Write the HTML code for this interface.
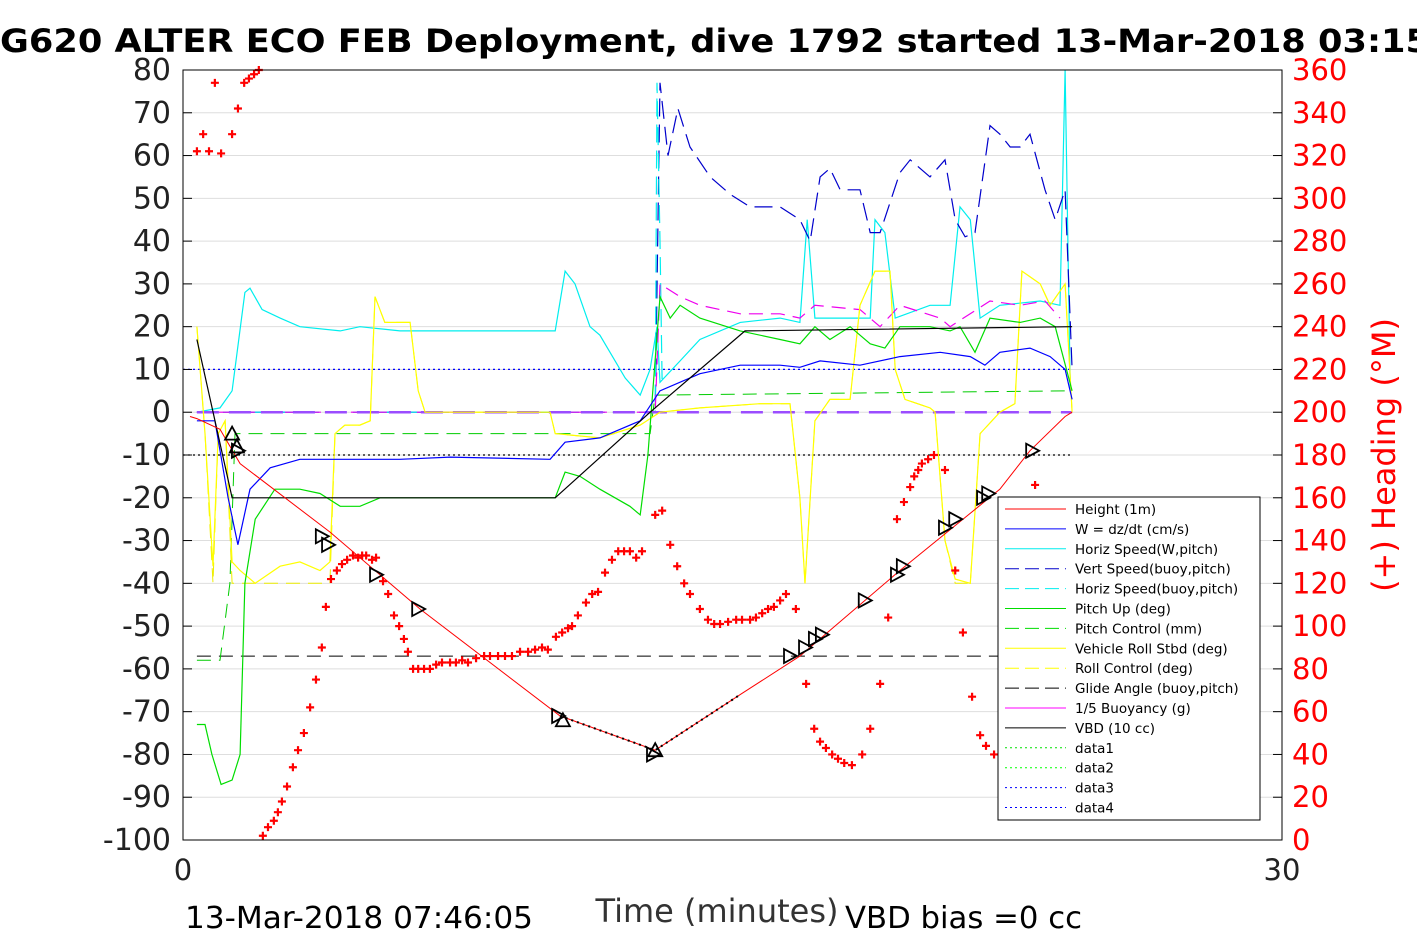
<!DOCTYPE html>
<html><head><meta charset="utf-8"><style>
html,body{margin:0;padding:0;background:#fff;width:1417px;height:945px;overflow:hidden}
svg text{font-family:"DejaVu Sans","Liberation Sans",sans-serif}
</style></head><body>
<svg id="c" width="1417" height="945" viewBox="0 0 1417 945" xmlns="http://www.w3.org/2000/svg">
<text x="0" y="52" font-size="32" font-weight="bold" textLength="1430" lengthAdjust="spacingAndGlyphs">G620 ALTER ECO FEB Deployment, dive 1792 started 13-Mar-2018 03:15</text>
<g id="grid"></g><g id="series"></g><g id="axes"></g>
<text x="185" y="928" font-size="30" textLength="348" lengthAdjust="spacingAndGlyphs">13-Mar-2018 07:46:05</text>
<text x="717" y="922" font-size="32" text-anchor="middle" fill="#333">Time (minutes)</text>
<text x="845" y="928" font-size="30" textLength="237" lengthAdjust="spacingAndGlyphs">VBD bias =0 cc</text>
<text transform="translate(1395,455) rotate(-90)" font-size="32" fill="#f00" text-anchor="middle">(+) Heading (°M)</text>
<g id="legend"></g>
</svg>
<script>
const leftTicks=[80,70,60,50,40,30,20,10,0,-10,-20,-30,-40,-50,-60,-70,-80,-90,-100];
const rightTicks=[360,340,320,300,280,260,240,220,200,180,160,140,120,100,80,60,40,20,0];
const xTicks=[0,30];
const heightT=[0.19,0.38,1.01,1.56,4.01,6.47,10.29,12.89,15.21,16.84,19.57,22.30,23.12,24.08,24.27];
const heightV=[-1,-1.5,-4,-12,-28,-46,-71,-79,-66,-57,-37,-18,-9,-1,0];
const wT=[0.38,0.87,1.23,1.50,1.83,2.38,3.19,4.56,5.92,7.29,10.02,10.43,11.38,12.48,13.02,14.11,15.21,16.30,16.84,17.39,18.48,19.57,20.67,21.49,21.89,22.30,23.12,23.67,24.08,24.27];
const wV=[-2,-2,-20,-31,-18,-13,-11,-11,-11,-10.5,-11,-7,-6,-2,5,9,11,11,10.5,12,11,13,14,13,11,14,15,13,10,3];
const hsT=[0.38,1.01,1.34,1.69,1.83,2.16,2.65,3.19,4.29,4.83,5.92,7.29,8.65,10.16,10.43,10.70,11.11,11.38,12.07,12.48,12.75,12.94,13.02,13.57,14.11,15.21,16.30,16.84,17.04,17.25,17.66,18.76,18.89,19.16,19.44,20.39,20.94,21.21,21.49,21.76,22.30,23.40,23.94,24.08,24.22];
const hsV=[0,1,5,28,29,24,22,20,19,20,19,19,19,19,33,30,20,18,8,4,10,20,7,12,17,21,22,21,45,22,22,22,45,42,22,25,25,48,45,22,25,26,25,80,5];
const vsT=[0.38,12.89,13.02,13.24,13.51,13.84,14.39,14.93,15.48,16.30,16.84,17.12,17.39,17.66,17.94,18.48,18.76,19.03,19.57,19.85,20.39,20.80,21.08,21.35,21.62,22.03,22.30,22.58,22.85,23.12,23.53,23.81,24.08,24.27];
const vsV=[0,0,77,60,71,62,55,51,48,48,45,40,55,57,52,52,42,42,56,59,55,59,45,41,42,67,65,62,62,65,52,45,52,10];
const pitchT=[0.38,0.60,0.79,1.04,1.34,1.56,1.69,1.97,2.51,3.19,3.74,4.29,4.83,5.38,6.47,8.65,10.16,10.43,10.84,11.38,12.20,12.48,12.69,13.02,13.30,13.57,14.11,15.21,16.30,16.84,17.25,17.66,18.21,18.76,19.16,19.57,20.39,20.94,21.21,21.62,22.03,22.85,23.40,23.81,24.27];
const pitchV=[-73,-73,-80,-87,-86,-80,-40,-25,-18,-18,-19,-22,-22,-20,-20,-20,-20,-14,-15,-18,-22,-24,-10,27,22,25,22,19,17,16,20,17,20,16,15,20,20,19,20,14,22,21,22,20,5];
const pcT=[0.38,1.01,1.28,1.42,12.75,12.89,24.27];
const pcV=[-58,-58,-40,-5,-5,4,5];
const rollT=[0.38,0.60,0.82,0.96,1.15,1.34,1.56,1.97,2.65,3.19,3.74,4.01,4.15,4.42,4.83,5.11,5.24,5.51,6.20,6.42,6.61,7.29,10.02,10.16,11.38,12.48,13.02,14.11,15.75,16.57,16.84,16.98,17.25,17.66,18.21,18.48,18.89,19.30,19.44,19.71,20.39,20.53,20.80,21.08,21.49,21.76,22.30,22.71,22.90,23.40,23.67,24.08,24.27];
const rollV=[20,-5,-36,-5,-2,-35,-37,-40,-36,-35,-37,-35,-5,-3,-3,-2,27,21,21,5,0,0,0,-5,-6,-3,0,1,2,2,-20,-40,-2,3,3,25,33,33,10,3,1,0,-30,-39,-40,-5,0,2,33,30,25,30,0];
const buoyT=[0.38,12.89,13.02,13.57,14.11,15.21,16.30,16.84,17.25,18.48,19.03,19.57,20.67,20.94,22.03,22.85,23.53,23.94];
const buoyV=[0,0,30,27,25,23,23,22,25,24,20,25,22,20,26,25,26,22];
const vbdT=[0.38,1.34,10.16,12.75,15.34,24.27];
const vbdV=[17,-20,-20,0,19,20];
const headT=[0.38,0.55,0.71,0.87,1.04,1.34,1.50,1.67,1.80,1.94,2.07,2.18,2.32,2.48,2.59,2.70,2.84,3.00,3.14,3.30,3.47,3.63,3.79,3.90,4.04,4.20,4.34,4.48,4.64,4.78,4.89,5.00,5.16,5.27,5.46,5.60,5.76,5.90,6.03,6.14,6.28,6.42,6.58,6.74,6.91,7.07,7.29,7.45,7.62,7.78,8.00,8.22,8.38,8.60,8.79,8.98,9.20,9.42,9.61,9.80,9.96,10.18,10.35,10.51,10.62,10.78,11.00,11.17,11.33,11.52,11.71,11.88,12.04,12.20,12.37,12.53,12.89,13.08,13.30,13.49,13.68,13.84,14.11,14.33,14.50,14.66,14.88,15.10,15.26,15.48,15.64,15.81,15.97,16.13,16.30,16.46,16.73,17.01,17.23,17.39,17.55,17.72,17.88,18.05,18.26,18.54,18.76,19.03,19.25,19.49,19.68,19.85,19.96,20.07,20.17,20.34,20.50,20.80,21.08,21.29,21.54,21.76,21.92,22.14,23.26];
const headV=[322,330,322,354,321,330,342,354,356,358,360,2,6,9,13,18,25,34,42,50,62,75,90,109,122,126,129,131,133,132,133,133,131,132,121,115,105,100,94,88,80,80,80,80,82,83,83,83,84,83,85,86,86,86,86,86,88,88,89,90,89,95,97,99,100,105,111,115,116,125,131,135,135,135,132,135,152,154,138,128,120,115,108,103,101,101,102,103,103,103,104,106,108,109,112,115,108,73,52,46,43,40,38,36,35,40,52,73,104,150,158,165,170,173,176,178,180,173,126,97,67,49,44,40,166];
const triRT=[1.50,3.79,3.96,5.27,6.42,10.24,12.83,16.57,16.98,17.25,17.44,18.61,19.49,19.65,20.80,21.08,21.84,21.98,23.18];
const triRV=[-9,-29,-31,-38,-46,-71,-80,-57,-55,-53,-52,-44,-38,-36,-27,-25,-20,-19,-9];
const triUT=[1.34,1.47,10.37,12.89];
const triUV=[-5,-8,-72,-79];

const X=t=>183+t*1099/30, Y=v=>70+(80-v)*770/180, YR=h=>840-h*770/360;
const NS='http://www.w3.org/2000/svg';
function mk(tag,attrs,parent){const e=document.createElementNS(NS,tag);for(const k in attrs)e.setAttribute(k,attrs[k]);document.getElementById(parent).appendChild(e);return e;}
function line(ts,vs,color,dash,name,w){
  const pts=ts.map((t,i)=>X(t).toFixed(1)+','+Y(vs[i]).toFixed(1)).join(' ');
  const e=mk('polyline',{points:pts,fill:'none',stroke:color,'stroke-width':w||1.2,'stroke-dasharray':dash||'none'},'series');
  
  
}
leftTicks.forEach(v=>{
  const g=mk('line',{x1:183,x2:1282,y1:Y(v),y2:Y(v),stroke:'#dedede','stroke-width':1},'grid');
  
  
});
line([0,24.27],[10,10],'#00f','2,3','data4-line',1.3);
line([0,24.27],[-10,-10],'#000','2,3','data1-line',1.3);
line([0.38,24.27],[-57,-57],'#000','14,8','glide-angle-line',1);
line(pcT,pcV,'#0c0','14,8','pitch-control-line',1);
line(rollT,rollV.map(v=>v< -30?-40:v),'#ee0','14,8','roll-control-line',1);
line(hsT,hsV,'#0ee','none','horiz-speed-w-line',1.2);
line(vsT,vsV,'#00c','18,8','vert-speed-buoy-line',1.2);
line([0.38,12.89,12.94,13.02,13.08],[0,0,77,40,6],'#0ee','18,8','horiz-speed-buoy-line',1.2);
line(buoyT,buoyV,'#e0e','14,8','buoyancy-line',1.2);
line([0.38,24.27],[0,0],'#9b4dff','22,10','zero-buoy-line',2.5);
line(rollT,rollV,'#ff0','none','vehicle-roll-line',1.2);
line(pitchT,pitchV,'#0d0','none','pitch-up-line',1.2);
line(wT,wV,'#00f','none','w-line',1.2);
line(vbdT,vbdV,'#000','none','vbd-line',1.2);
line(heightT,heightV,'#f00','none','height-line',1);
line([10.29,12.89,15.21],[-71,-79,-66],'#000','2,4','data-dots-line',2);
headT.forEach((t,i)=>{
  const x=X(t),y=YR(headV[i]);
  const p=mk('path',{d:`M${x-4},${y}H${x+4}M${x},${y-4}V${y+4}`,stroke:'#f00','stroke-width':2.2},'series');
  
  
});
triRT.forEach((t,i)=>{
  const x=X(t),y=Y(triRV[i]);
  const p=mk('path',{d:`M${x-6},${y-7}L${x+7},${y}L${x-6},${y+7}Z`,fill:'none',stroke:'#000','stroke-width':1.8},'series');
  
  
});
triUT.forEach((t,i)=>{
  const x=X(t),y=Y(triUV[i]);
  const p=mk('path',{d:`M${x-7},${y+6}L${x},${y-7}L${x+7},${y+6}Z`,fill:'none',stroke:'#000','stroke-width':1.8},'series');
  
  
});
const box=mk('rect',{x:183,y:70,width:1099,height:770,fill:'none',stroke:'#000','stroke-width':1},'axes');


leftTicks.forEach(v=>{
  mk('line',{x1:183,x2:192,y1:Y(v),y2:Y(v),stroke:'#000'},'axes');
  const t=mk('text',{x:171,y:Y(v)+10,'font-size':30,'text-anchor':'end',fill:'#222'},'axes');
  t.textContent=v;
  
  
});
rightTicks.forEach(v=>{
  mk('line',{x1:1273,x2:1282,y1:YR(v),y2:YR(v),stroke:'#000'},'axes');
  const t=mk('text',{x:1292,y:YR(v)+10,'font-size':29,fill:'#f00'},'axes');
  t.textContent=v;
  
  
});
xTicks.forEach(v=>{
  const t=mk('text',{x:X(v),y:880,'font-size':29,'text-anchor':'middle',fill:'#222'},'axes');
  t.textContent=v;
  
  
});
const legNames=['Height (1m)','W = dz/dt (cm/s)','Horiz Speed(W,pitch)','Vert Speed(buoy,pitch)','Horiz Speed(buoy,pitch)','Pitch Up (deg)','Pitch Control (mm)','Vehicle Roll Stbd (deg)','Roll Control (deg)','Glide Angle (buoy,pitch)','1/5 Buoyancy (g)','VBD (10 cc)','data1','data2','data3','data4'];
const legCol=['#f00','#00f','#0ee','#00c','#0ee','#0d0','#0d0','#ff0','#ff0','#000','#f0f','#000','#0d0','#0f0','#00f','#00f'];
const legDash=['none','none','none','14,6','14,6','none','14,6','none','14,6','14,6','none','none','2,3','2,3','2,3','2,3'];
const lb=mk('rect',{x:998,y:497,width:262,height:323,fill:'#fff',stroke:'#000','stroke-width':1},'legend');


legNames.forEach((n,i)=>{
  const y=509+i*19.9;
  const l=mk('line',{x1:1005,x2:1066,y1:y,y2:y,stroke:legCol[i],'stroke-width':1,'stroke-dasharray':legDash[i]},'legend');
  
  
  const t=mk('text',{x:1075,y:y+5,'font-size':13.5,fill:'#000'},'legend');
  t.textContent=n;
  
  
});
</script>
</body></html>
